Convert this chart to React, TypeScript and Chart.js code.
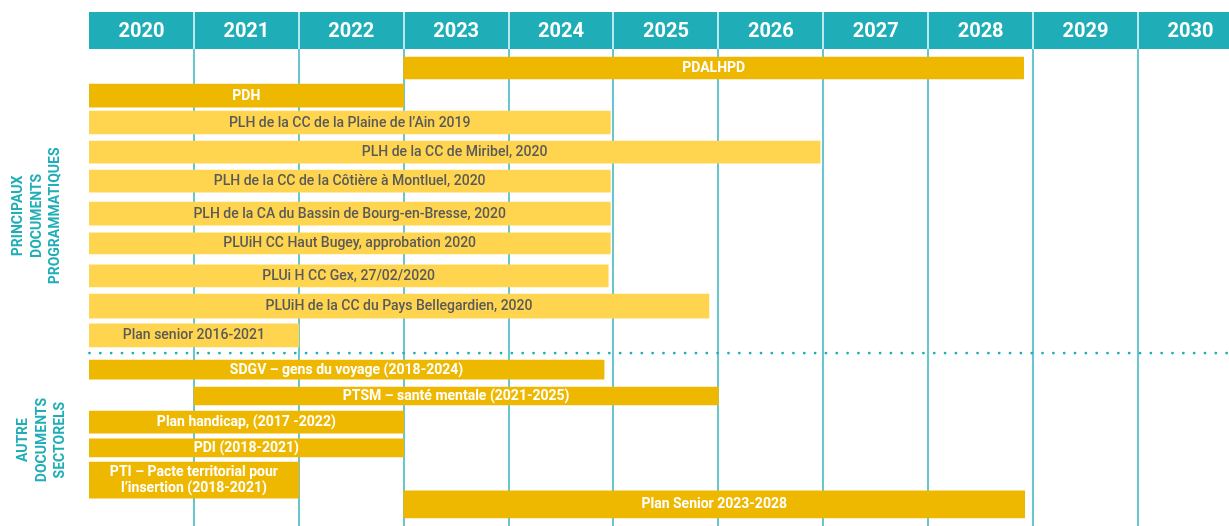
import React, { useEffect, useRef } from "react";
import { Chart, registerables } from "chart.js";

Chart.register(...registerables);

// ---- data ----
const yearLabels = ["2020", "2021", "2022", "2023", "2024", "2025", "2026", "2027", "2028", "2029", "2030"];

const taskLabels = [
  "PDALHPD",
  "PDH",
  "PLH de la CC de la Plaine de l’Ain 2019",
  "PLH de la CC de Miribel, 2020",
  "PLH de la CC de la Côtière à Montluel, 2020",
  "PLH de la CA du Bassin de Bourg-en-Bresse, 2020",
  "PLUiH CC Haut Bugey, approbation 2020",
  "PLUi H CC Gex, 27/02/2020",
  "PLUiH de la CC du Pays Bellegardien, 2020",
  "Plan senior 2016-2021",
  "SDGV – gens du voyage (2018-2024)",
  "PTSM – santé mentale (2021-2025)",
  "Plan handicap, (2017 -2022)",
  "PDI (2018-2021)",
  "PTI – Pacte territorial pour\nl’insertion (2018-2021)",
  "Plan Senior 2023-2028",
];
const taskStart = [2023, 2020, 2020, 2020, 2020, 2020, 2020, 2020, 2020, 2020, 2020, 2021, 2020, 2020, 2020, 2023];
const taskEnd = [2028.91, 2023, 2024.97, 2026.97, 2024.97, 2024.97, 2024.97, 2024.95, 2025.91, 2022, 2024.91, 2026, 2023, 2023, 2022, 2028.92];
const taskTone = ["dark", "dark", "light", "light", "light", "light", "light", "light", "light", "light", "dark", "dark", "dark", "dark", "dark", "dark"];

const groupLines = [
  ["PRINCIPAUX", "DOCUMENTS", "PROGRAMMATIQUES"],
  ["AUTRE", "DOCUMENTS", "SECTORELS"],
];

// ---- layout (row slots on the y scale, bar thickness in px) ----
const rowSlot = [0, 0.95, 1.88, 2.9, 3.9, 5.02, 6.05, 7.17, 8.21, 9.22, 10.4, 11.31, 12.21, 13.1, 14.21, 15.05];
const barPx = [22, 23, 23, 22, 22, 23, 21, 22, 24, 23, 19, 18, 22, 18, 36, 27];
const groupSlot = [5.1, 12.83];
const groupX = [37, 42];
const separatorSlot = 9.83;

const TEAL = "#1FAEB7";
const GRID = "#67C7CE";
const DARK = "#EFB800";
const LIGHT = "#FFD54F";

const decorPlugin = {
  id: "decor",
  beforeDatasetsDraw(chart: any) {
    const { ctx, chartArea, scales } = chart;
    const xs = scales.x;
    const ys = scales.y;
    ctx.save();
    // vertical grid lines
    ctx.strokeStyle = GRID;
    ctx.lineWidth = 2;
    for (let i = 1; i <= yearLabels.length; i++) {
      const px = Math.round(xs.getPixelForValue(Number(yearLabels[0]) + i));
      ctx.beginPath();
      ctx.moveTo(px, chartArea.top);
      ctx.lineTo(px, chart.height);
      ctx.stroke();
    }
    // dotted separator
    const sy = ys.getPixelForValue(separatorSlot);
    ctx.fillStyle = TEAL;
    for (let x = chartArea.left + 0.5; x < chart.width; x += 10.83) {
      ctx.beginPath();
      ctx.arc(x, sy, 1.4, 0, Math.PI * 2);
      ctx.fill();
    }
    ctx.restore();
  },
  afterDatasetsDraw(chart: any) {
    const { ctx, chartArea, scales } = chart;
    const xs = scales.x;
    const ys = scales.y;
    ctx.save();
    // bar labels
    ctx.textAlign = "center";
    ctx.textBaseline = "middle";
    chart.data.datasets.forEach((ds: any, i: number) => {
      const el = chart.getDatasetMeta(i).data[0];
      if (!el) return;
      const cx = (el.x + el.base) / 2;
      const cy = el.y;
      const dark = taskTone[i] === "dark";
      ctx.fillStyle = dark ? "#FFFFFF" : "#5A5A5A";
      ctx.font = dark ? "700 14px Roboto" : "500 14px Roboto";
      const lines = String(ds.label).split("\n");
      const lh = 15.5;
      lines.forEach((ln, k) => {
        ctx.fillText(ln, cx, cy + (k - (lines.length - 1) / 2) * lh + 0.5);
      });
    });
    // header band
    const top = chartArea.top - 37;
    ctx.fillStyle = TEAL;
    ctx.fillRect(chartArea.left, top, chart.width - chartArea.left, 37);
    ctx.strokeStyle = "#BDE8EB";
    ctx.lineWidth = 2;
    ctx.fillStyle = "#FFFFFF";
    ctx.font = "700 20px Roboto";
    yearLabels.forEach((y, i) => {
      const v = Number(y);
      const x0 = xs.getPixelForValue(v);
      const x1 = xs.getPixelForValue(v + 1);
      if (i > 0) {
        ctx.beginPath();
        ctx.moveTo(Math.round(x0), top);
        ctx.lineTo(Math.round(x0), chartArea.top);
        ctx.stroke();
      }
      ctx.fillText(y, (x0 + x1) / 2, top + 19.5);
    });
    // group side labels
    ctx.fillStyle = TEAL;
    ctx.font = "700 14px Roboto";
    groupLines.forEach((lines, g) => {
      const gy = ys.getPixelForValue(groupSlot[g]);
      ctx.save();
      ctx.translate(groupX[g], gy);
      ctx.rotate(-Math.PI / 2);
      lines.forEach((ln, k) => {
        ctx.fillText(ln, 0, (k - 1) * 18.8);
      });
      ctx.restore();
    });
    ctx.restore();
  },
};

export default function App() {
  const ref = useRef<HTMLCanvasElement | null>(null);
  useEffect(() => {
    if (!ref.current) return;
    const datasets = taskLabels.map((label, i) => ({
      label,
      data: [{ x: [taskStart[i], taskEnd[i]], y: rowSlot[i] }],
      backgroundColor: taskTone[i] === "dark" ? DARK : LIGHT,
      barThickness: barPx[i],
      grouped: false,
      borderWidth: 0,
    }));
    const chart = new Chart(ref.current, {
      type: "bar",
      data: { datasets } as any,
      options: {
        animation: false,
        responsive: false,
        indexAxis: "y",
        layout: { padding: { left: 89, top: 49, right: 0, bottom: 0 } },
        scales: {
          x: { type: "linear", min: 2020, max: 2020 + 1140 / 104.9, display: false, offset: false },
          y: { type: "linear", min: -0.655, max: 15.793, reverse: true, display: false, offset: false },
        },
        plugins: { legend: { display: false }, tooltip: { enabled: false } },
      } as any,
      plugins: [decorPlugin],
    });
    return () => chart.destroy();
  }, []);
  return (
    <div style={{ position: "absolute", left: 0, top: 0, width: 1229, height: 526, background: "#fff" }}>
      <canvas ref={ref} width={1229} height={526} style={{ display: "block" }} />
    </div>
  );
}
